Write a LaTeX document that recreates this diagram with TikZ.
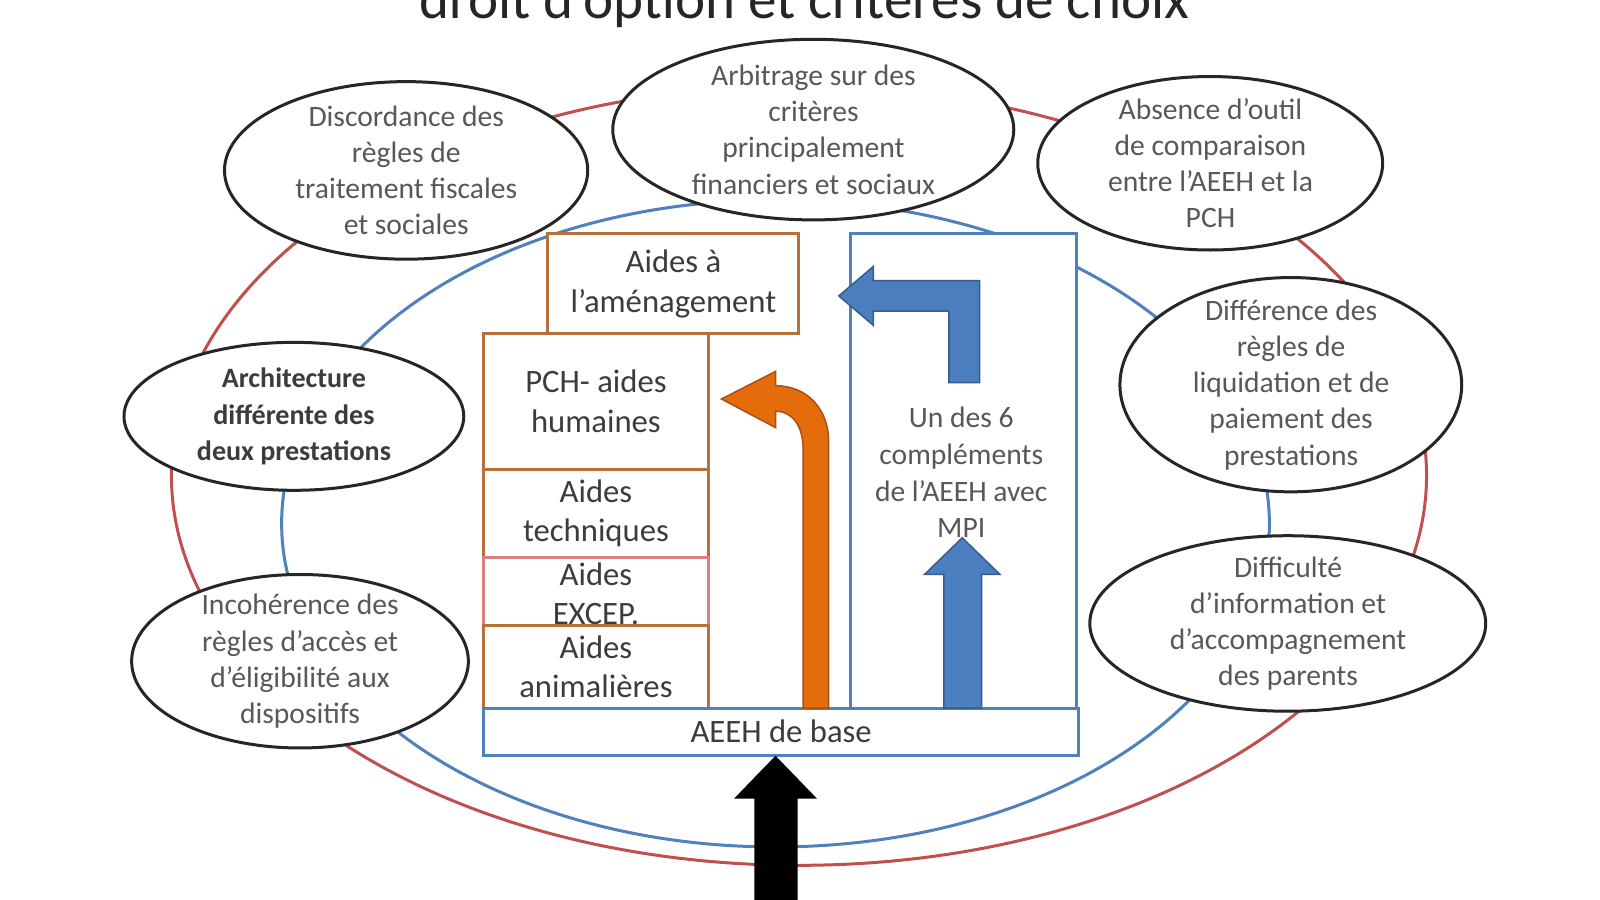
\documentclass[tikz,border=0pt]{standalone}
\usepackage{fontspec}
\setmainfont{Carlito}
\usetikzlibrary{shapes.geometric}
\definecolor{ringred}{RGB}{192,80,77}
\definecolor{ringblue}{RGB}{79,129,189}
\definecolor{boxbrown}{RGB}{182,112,58}
\definecolor{boxpink}{RGB}{218,128,128}
\definecolor{txtgray}{RGB}{88,88,88}
\definecolor{txtdark}{RGB}{60,60,60}
\definecolor{arrorange}{RGB}{228,108,10}
\definecolor{arrorangeedge}{RGB}{170,80,20}
\definecolor{arrblue}{RGB}{74,126,190}
\definecolor{arrblueedge}{RGB}{56,93,138}
\begin{document}
\begin{tikzpicture}[x=1pt,y=-1pt,scale=1.0204,
  every node/.append style={transform shape},
  bubble/.style={ellipse, draw=black!85, line width=3pt, fill=white, inner sep=0pt},
  bubbletext/.style={align=center, text=txtgray, font=\fontsize{29}{35.5}\selectfont, inner sep=0pt},
  boldtext/.style={align=center, text=txtdark, font=\bfseries\fontsize{27.5}{35.5}\selectfont, inner sep=0pt},
  brownbox/.style={draw=boxbrown, line width=3pt, fill=white, inner sep=0pt, align=center, text=txtdark, font=\fontsize{32}{39}\selectfont},
  pinkbox/.style={brownbox, draw=boxpink},
  bluebox/.style={brownbox, draw=ringblue},
  ring/.style={line width=3pt},
  bigarrow/.style={line width=1.5pt, line join=miter}
]
\useasboundingbox (0,0) rectangle (1568,882);
\fill[white] (0,0) rectangle (1568,882);

% title (partly cut off at the top)
\node[anchor=base, inner sep=0pt, text=black!85, font=\fontsize{56}{60}\selectfont] (title) at (788,18) {droit d'option et critères de choix};

% rings
\draw[ring, ringred] (783,466) ellipse [x radius=615pt, y radius=382pt];
\draw[ring, ringblue] (760,513) ellipse [x radius=484pt, y radius=317pt];

% stacked boxes
\node[brownbox, minimum width=220pt, minimum height=133pt] (pch) at (584,393.5) {PCH- aides\\humaines};
\node[brownbox, minimum width=220pt, minimum height=86pt] (tech) at (584,503) {Aides\\techniques};
\node[pinkbox, minimum width=220pt, minimum height=67pt] (excep) at (584,579.5) {};
\node[brownbox, minimum width=220pt, minimum height=81pt] (anim) at (584,653.5) {Aides\\animalières};
\node[align=center, text=txtdark, font=\fontsize{32}{39}\selectfont, inner sep=0pt] (exceptext) at (584,582) {Aides\\EXCEP.};
\node[brownbox, minimum width=246pt, minimum height=98pt] (amen) at (660,278) {Aides à\\l'aménagement};
\node[bluebox, minimum width=222pt, minimum height=465pt] (mpi) at (944,461.5) {};
\node[align=center, text=txtgray, font=\fontsize{29}{36}\selectfont, inner sep=0pt] (mpitext) at (942,463) {Un des 6\\compléments\\de l'AEEH avec\\MPI};
\node[bluebox, minimum width=583pt, minimum height=46pt] (aeeh) at (765.5,717) {AEEH de base};

% orange bent arrow
\filldraw[bigarrow, fill=arrorange, draw=arrorangeedge]
  (787,694) -- (787,440) .. controls (787,418) and (777,403) .. (760,403)
  -- (760,419) -- (707,391) -- (760,364) -- (760,378)
  .. controls (792,378) and (812,402) .. (812,432) -- (812,694) -- cycle;

% blue bent arrow
\filldraw[bigarrow, fill=arrblue, draw=arrblueedge]
  (960,375) -- (960,275) -- (856,275) -- (856,261) -- (822,290) -- (856,319)
  -- (856,305) -- (930,305) -- (930,375) -- cycle;

% blue up arrow
\filldraw[bigarrow, fill=arrblue, draw=arrblueedge]
  (925,694) -- (925,563) -- (906,563) -- (943,527) -- (980,563) -- (962,563) -- (962,694) -- cycle;

% black up arrow
\filldraw[bigarrow, fill=black, draw=black]
  (740,890) -- (740,782) -- (721,782) -- (aeeh.south -| 760,0) -- (799,782) -- (781,782) -- (781,890) -- cycle;

% bubbles
\node[bubble, minimum width=356pt, minimum height=174pt] (e1) at (398,167) {};
\node[bubbletext] at (e1) {Discordance des\\règles de\\traitement fiscales\\et sociales};

\node[bubble, minimum width=393pt, minimum height=177pt] (e2) at (797,127) {};
\node[bubbletext] at (e2) {Arbitrage sur des\\critères\\principalement\\financiers et sociaux};

\node[bubble, minimum width=338pt, minimum height=170pt] (e3) at (1186,160) {};
\node[bubbletext] at (e3) {Absence d'outil\\de comparaison\\entre l'AEEH et la\\PCH};

\node[bubble, minimum width=333pt, minimum height=145pt] (e4) at (288,408) {};
\node[boldtext] at (e4) {Architecture\\différente des\\deux prestations};

\node[bubble, minimum width=335pt, minimum height=210pt] (e5) at (1265,377) {};
\node[bubbletext] at (e5) {Différence des\\règles de\\liquidation et de\\paiement des\\prestations};

\node[bubble, minimum width=330pt, minimum height=170pt] (e6) at (294,648) {};
\node[bubbletext] at (e6) {Incohérence des\\règles d'accès et\\d'éligibilité aux\\dispositifs};

\node[bubble, minimum width=388pt, minimum height=172pt] (e7) at (1262,611) {};
\node[bubbletext] at (e7) {Difficulté\\d'information et\\d'accompagnement\\des parents};
\end{tikzpicture}
\end{document}
